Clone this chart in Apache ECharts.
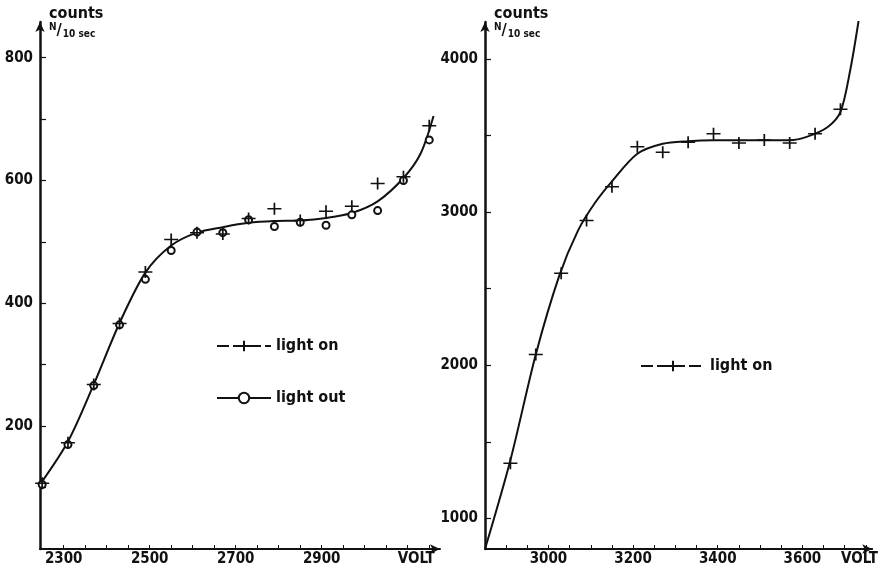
<!DOCTYPE html>
<html>
<head>
<meta charset="utf-8">
<title>counts vs volt</title>
<script src="https://cdn.jsdelivr.net/npm/echarts@6/dist/echarts.min.js"></script>
<style>
    html, body {margin: 0; padding: 0; background: #fff;}
    #main {width: 881px; height: 568px;}
</style>
</head>
<body>
<div id="main"></div>
<script>
// 左图：light on / light out
const onVoltL = [2250, 2310, 2370, 2430, 2490, 2550, 2610, 2670, 2730, 2790, 2850, 2910, 2970, 3030, 3090, 3150];
const onCountsL = [107, 173, 268, 367, 451, 504, 515, 513, 538, 554, 535, 550, 558, 595, 606, 689];
const outCountsL = [105, 170, 266, 365, 439, 486, 516, 515, 536, 525, 532, 527, 544, 551, 600, 666];
// 手画的拟合曲线（从图上读的点）
const fitVoltL = [2245, 2310, 2370, 2430, 2490, 2550, 2610, 2670, 2730, 2790, 2850, 2910, 2970, 3030, 3090, 3130, 3160];
const fitCountsL = [105, 175, 268, 368, 450, 494, 515, 524, 531, 534, 535, 539, 547, 566, 604, 644, 705];

// 右图：light on
const onVoltR = [2910, 2970, 3030, 3090, 3150, 3210, 3270, 3330, 3390, 3450, 3510, 3570, 3630, 3690];
const onCountsR = [1360, 2070, 2600, 2945, 3165, 3425, 3390, 3455, 3510, 3450, 3470, 3450, 3510, 3670];
const fitVoltR = [2850, 2910, 2970, 3025, 3070, 3110, 3150, 3210, 3270, 3330, 3390, 3450, 3510, 3570, 3610, 3660, 3690, 3713, 3733];
const fitCountsR = [800, 1380, 2070, 2580, 2880, 3060, 3200, 3380, 3445, 3462, 3468, 3468, 3468, 3468, 3490, 3555, 3653, 3925, 4251];

// 刻度
const xLabelsL = [2300, 2500, 2700, 2900];
const yLabelsL = [200, 400, 600, 800];
const xLabelsR = [3000, 3200, 3400, 3600];
const yLabelsR = [1000, 2000, 3000, 4000];
const xTicksL = [2300, 2350, 2400, 2450, 2500, 2550, 2600, 2650, 2700, 2750, 2800, 2850, 2900, 2950, 3000, 3050, 3100, 3150];
const yTicksL = [100, 200, 300, 400, 500, 600, 700, 800];
const xTicksR = [2900, 2950, 3000, 3050, 3100, 3150, 3200, 3250, 3300, 3350, 3400, 3450, 3500, 3550, 3600, 3650, 3700, 3750];
const yTicksR = [1000, 1500, 2000, 2500, 3000, 3500, 4000];
const VOLT_AT_L = 3120;
const VOLT_AT_R = 3735;

const INK = '#111';
const FONT = '"Liberation Sans Narrow", "DejaVu Sans Condensed", "Liberation Sans", sans-serif';
const CROSS = 'path://M0,6L14,6M7,0L7,12';

function zip(xs, ys) {
    return xs.map((x, i) => [x, ys[i]]);
}

function xAxis(idx, min, max, labels, ticks, voltAt) {
    return {
        type: 'value', gridIndex: idx, min: min, max: max,
        splitLine: {show: false},
        axisLine: {lineStyle: {color: INK, width: 2}, symbol: ['none', 'arrow'], symbolSize: [7, 10]},
        axisTick: {inside: true, length: 4, lineStyle: {color: INK, width: 1}, customValues: ticks},
        axisLabel: {
            customValues: labels.concat([voltAt]),
            formatter: v => v === voltAt ? 'VOLT' : String(v),
            color: INK, fontFamily: FONT, fontWeight: 'bold', fontSize: 15, margin: 3
        }
    };
}

function yAxis(idx, min, max, labels, ticks) {
    return {
        type: 'value', gridIndex: idx, min: min, max: max,
        splitLine: {show: false},
        axisLine: {lineStyle: {color: INK, width: 2.5}, symbol: ['none', 'arrow'], symbolSize: [7, 10]},
        axisTick: {inside: true, length: 6, lineStyle: {color: INK, width: 1.2}, customValues: ticks},
        axisLabel: {
            customValues: labels, formatter: v => String(v),
            color: INK, fontFamily: FONT, fontWeight: 'bold', fontSize: 15, margin: 7
        },
        name: 'counts\n{n|N}{sl|/}{s|10 sec}',
        nameLocation: 'end',
        nameGap: 0,
        nameTextStyle: {
            align: 'left', verticalAlign: 'middle', color: INK, fontFamily: FONT, fontSize: 16,
            fontWeight: 'bold', lineHeight: 17, padding: [0, 0, 0, 9],
            rich: {
                n: {fontSize: 10, fontWeight: 'bold', fontFamily: FONT, color: INK, verticalAlign: 'top', padding: [0, 0, 4, 0]},
                sl: {fontSize: 16, fontFamily: FONT, color: INK},
                s: {fontSize: 10, fontWeight: 'bold', fontFamily: FONT, color: INK, verticalAlign: 'bottom', padding: [6, 0, 0, 1]}
            }
        }
    };
}

function onSeries(idx, data) {
    return {
        name: 'light on', type: 'line', xAxisIndex: idx, yAxisIndex: idx, data: data,
        symbol: CROSS, symbolSize: [14, 12], z: 5,
        itemStyle: {color: INK, borderColor: INK, borderWidth: 1.6},
        lineStyle: {opacity: 0, type: [12, 4], width: 2, color: INK}
    };
}

function fitSeries(idx, data) {
    return {
        type: 'line', xAxisIndex: idx, yAxisIndex: idx, data: data,
        smooth: 0.3, showSymbol: false, silent: true, z: 3,
        lineStyle: {color: INK, width: 2}
    };
}

const legendText = {color: INK, fontFamily: FONT, fontWeight: 'bold', fontSize: 16};

const option = {
    backgroundColor: '#fff',
    animation: false,
    grid: [
        {left: 40, top: 22, width: 400, height: 527},
        {left: 485, top: 22, width: 393, height: 527}
    ],
    xAxis: [
        xAxis(0, 2245, 3175, xLabelsL, xTicksL, VOLT_AT_L),
        xAxis(1, 2850, 3765, xLabelsR, xTicksR, VOLT_AT_R)
    ],
    yAxis: [
        yAxis(0, 0, 858, yLabelsL, yTicksL),
        yAxis(1, 800, 4240, yLabelsR, yTicksR)
    ],
    legend: [
        {
            left: 211, top: 333, orient: 'vertical', itemGap: 36, itemWidth: 54, itemHeight: 13,
            textStyle: legendText, selectedMode: false,
            data: [
                {name: 'light on', lineStyle: {opacity: 1}},
                {name: 'light out', lineStyle: {opacity: 1}}
            ]
        },
        {
            left: 635, top: 353, itemWidth: 64, itemHeight: 13,
            textStyle: legendText, selectedMode: false,
            data: [{name: 'light on', lineStyle: {opacity: 1}}]
        }
    ],
    series: [
        fitSeries(0, zip(fitVoltL, fitCountsL)),
        onSeries(0, zip(onVoltL, onCountsL)),
        {
            name: 'light out', type: 'line', xAxisIndex: 0, yAxisIndex: 0,
            data: zip(onVoltL, outCountsL),
            symbol: 'emptyCircle', symbolSize: 7, z: 4,
            itemStyle: {color: INK, borderColor: INK, borderWidth: 1.6},
            lineStyle: {opacity: 0, width: 2, color: INK}
        },
        fitSeries(1, zip(fitVoltR, fitCountsR)),
        onSeries(1, zip(onVoltR, onCountsR))
    ]
};

const chart = echarts.init(document.getElementById('main'));
chart.setOption(option);
</script>
</body>
</html>
